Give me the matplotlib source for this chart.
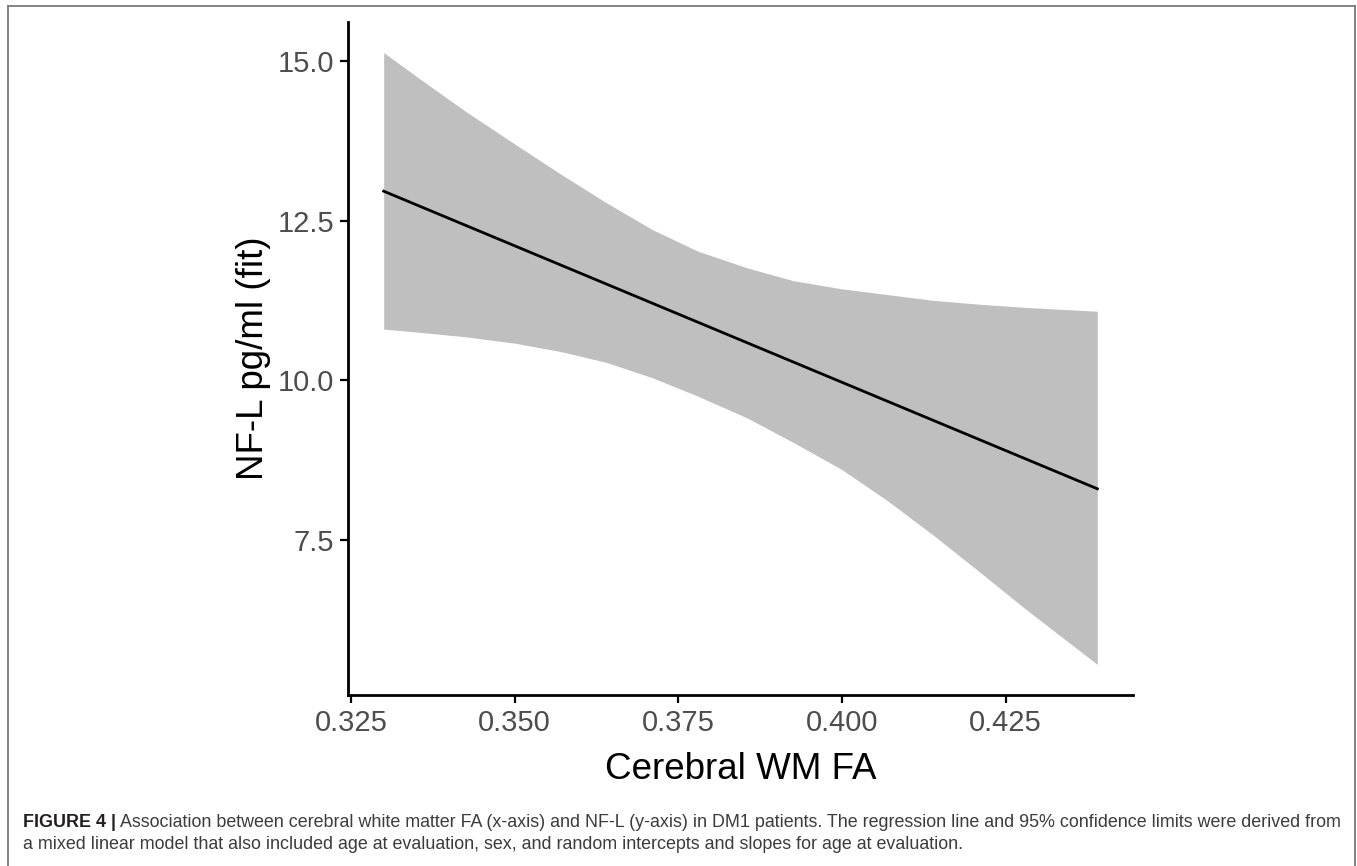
import matplotlib
matplotlib.use("Agg")
import matplotlib.pyplot as plt
from matplotlib.lines import Line2D

plt.rcParams["font.family"] = ["Liberation Sans", "DejaVu Sans"]

# ribbon (cerebral WM FA vs NF-L fit, 95% limits)
fa = [0.330, 0.3355, 0.3425, 0.350, 0.357, 0.364, 0.371, 0.378,
      0.3855, 0.3925, 0.400, 0.407, 0.414, 0.421, 0.428, 0.439]
ci_upper = [15.13, 14.72, 14.21, 13.70, 13.23, 12.78, 12.36, 12.02,
            11.76, 11.56, 11.43, 11.34, 11.25, 11.19, 11.14, 11.08]
ci_lower = [10.80, 10.75, 10.68, 10.58, 10.45, 10.28, 10.04, 9.75,
            9.41, 9.03, 8.60, 8.11, 7.57, 7.00, 6.42, 5.55]

# regression line end points
fit_x = [0.330, 0.439]
fit_y = [12.96, 8.30]

x_ticks = [0.325, 0.350, 0.375, 0.400, 0.425]
y_ticks = [7.5, 10.0, 12.5, 15.0]

caption_bold = "FIGURE 4 |"
caption_line1 = (" Association between cerebral white matter FA (x-axis) and NF-L (y-axis) in DM1 patients. "
                 "The regression line and 95% confidence limits were derived from")
caption_line2 = ("a mixed linear model that also included age at evaluation, sex, and random intercepts "
                 "and slopes for age at evaluation.")

W, H = 1357, 866
fig = plt.figure(figsize=(W / 100, H / 100), dpi=100)
ax = fig.add_axes([348 / W, 1 - 695 / H, (1133 - 348) / W, (695 - 22) / H])

ax.fill_between(fa, ci_lower, ci_upper, color="#bfbfbf", linewidth=0)
ax.plot(fit_x, fit_y, color="black", linewidth=2.0)
ax.margins(x=0.05, y=0.05)

ax.set_xticks(x_ticks)
ax.set_xticklabels([f"{v:.3f}" for v in x_ticks])
ax.set_yticks(y_ticks)
ax.set_yticklabels([f"{v:.1f}" for v in y_ticks])
ax.tick_params(labelsize=21, labelcolor="#4d4d4d", length=6, width=1.6, pad=4)

for side in ["top", "right"]:
    ax.spines[side].set_visible(False)
for side in ["left", "bottom"]:
    ax.spines[side].set_linewidth(2.0)

ax.set_xlabel("Cerebral WM FA", fontsize=26.5, labelpad=11)
ax.set_ylabel("NF-L pg/ml (fit)", fontsize=26.5, labelpad=5)

# grey frame round the figure (left, top, right)
frame_kw = dict(color="#7a7a7a", linewidth=1.3, transform=fig.transFigure)
fig.add_artist(Line2D([8 / W, 8 / W], [0, 1 - 6 / H], **frame_kw))
fig.add_artist(Line2D([8 / W, 1355 / W], [1 - 6 / H, 1 - 6 / H], **frame_kw))
fig.add_artist(Line2D([1355 / W, 1355 / W], [0, 1 - 6 / H], **frame_kw))

# caption
renderer = fig.canvas.get_renderer()
t_bold = fig.text(23 / W, 1 - 827 / H, caption_bold, fontsize=12.9, fontweight="bold",
                  color="#231f20", va="baseline")
bb = t_bold.get_window_extent(renderer)
fig.text(bb.x1 / W, 1 - 827 / H, caption_line1, fontsize=12.9, color="#3c3c3c", va="baseline")
fig.text(23 / W, 1 - 849 / H, caption_line2, fontsize=12.9, color="#3c3c3c", va="baseline")

fig.savefig("out.png", dpi=100)
